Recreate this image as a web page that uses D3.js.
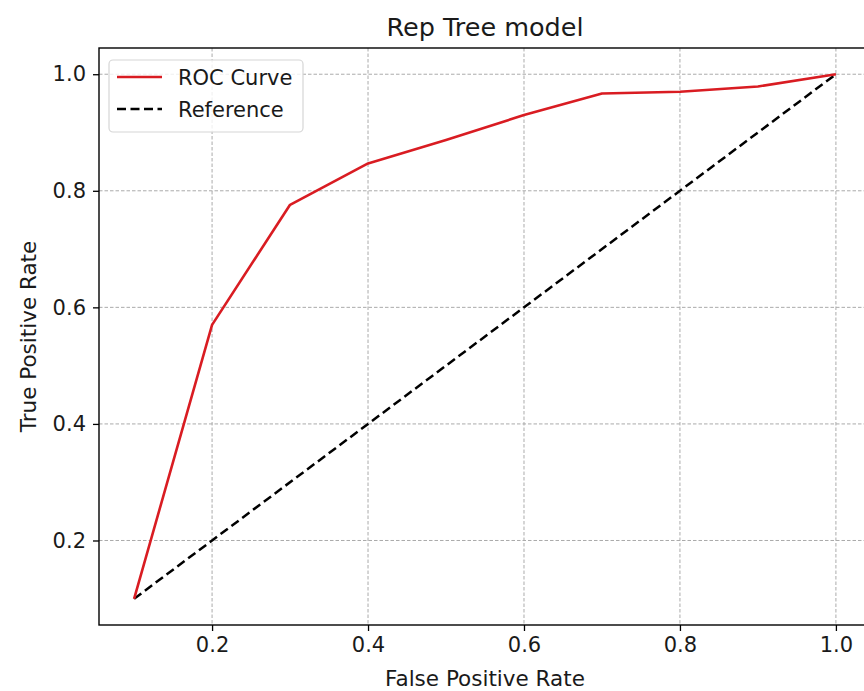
<!DOCTYPE html>
<html>
<head>
<meta charset="utf-8">
<script src="https://cdn.jsdelivr.net/npm/d3@7"></script>
<style>
  body { margin: 0; background: #fff; }
  svg { display: block; font-family: "DejaVu Sans", sans-serif; }
</style>
</head>
<body>
<script>
// ROC curve points
var fpr = [0.1, 0.2, 0.3, 0.4, 0.5, 0.6, 0.7, 0.8, 0.9, 1.0];
var tpr = [0.1, 0.57, 0.776, 0.847, 0.887, 0.93, 0.967, 0.97, 0.979, 1.0];
var refX = [0.1, 1.0];
var refY = [0.1, 1.0];
var xTicks = [0.2, 0.4, 0.6, 0.8, 1.0];
var yTicks = [0.2, 0.4, 0.6, 0.8, 1.0];

var width = 864, height = 691;
var plotLeft = 99, plotRight = 871, plotTop = 48, plotBottom = 625;

var svg = d3.select('body').append('svg')
    .attr('width', width)
    .attr('height', height);

var x = d3.scaleLinear().domain([0.055, 1.045]).range([plotLeft, plotRight]);
var y = d3.scaleLinear().domain([0.055, 1.045]).range([plotBottom, plotTop]);

// grid
svg.append('g').selectAll('line')
    .data(xTicks).enter().append('line')
    .attr('x1', function(d) { return x(d); })
    .attr('x2', function(d) { return x(d); })
    .attr('y1', plotTop).attr('y2', plotBottom)
    .attr('stroke', '#ababab').attr('stroke-width', 1)
    .attr('stroke-dasharray', '3.5,2');
svg.append('g').selectAll('line')
    .data(yTicks).enter().append('line')
    .attr('y1', function(d) { return y(d); })
    .attr('y2', function(d) { return y(d); })
    .attr('x1', plotLeft).attr('x2', plotRight)
    .attr('stroke', '#ababab').attr('stroke-width', 1)
    .attr('stroke-dasharray', '3.5,2');

// axes
var xAxis = svg.append('g')
    .attr('transform', 'translate(0,' + plotBottom + ')')
    .call(d3.axisBottom(x).tickValues(xTicks).tickFormat(d3.format('.1f')).tickSizeOuter(0).tickSizeInner(6).tickPadding(6));
var yAxis = svg.append('g')
    .attr('transform', 'translate(' + plotLeft + ',0)')
    .call(d3.axisLeft(y).tickValues(yTicks).tickFormat(d3.format('.1f')).tickSizeOuter(0).tickSizeInner(6).tickPadding(7));
[xAxis, yAxis].forEach(function(g) {
  g.select('.domain').remove();
  g.selectAll('.tick line').attr('stroke', '#000').attr('stroke-width', 1.3);
  g.selectAll('.tick text').attr('fill', '#1a1a1a').style('font-size', '21px').style('font-family', '"DejaVu Sans", sans-serif');
});

// frame
svg.append('rect')
    .attr('x', plotLeft).attr('y', plotTop)
    .attr('width', plotRight - plotLeft).attr('height', plotBottom - plotTop)
    .attr('fill', 'none').attr('stroke', '#000').attr('stroke-width', 1.4);

var line = d3.line()
    .x(function(d) { return x(d[0]); })
    .y(function(d) { return y(d[1]); });

svg.append('path')
    .datum(refX.map(function(v, i) { return [v, refY[i]]; }))
    .attr('d', line)
    .attr('fill', 'none').attr('stroke', '#000').attr('stroke-width', 2.5)
    .attr('stroke-dasharray', '9,4.5');

svg.append('path')
    .datum(fpr.map(function(v, i) { return [v, tpr[i]]; }))
    .attr('d', line)
    .attr('fill', 'none').attr('stroke', '#d91c22').attr('stroke-width', 2.6)
    .attr('stroke-linejoin', 'round');

// legend
var legend = svg.append('g');
legend.append('rect')
    .attr('x', 109).attr('y', 60).attr('width', 194).attr('height', 72)
    .attr('rx', 4)
    .attr('fill', '#fff').attr('fill-opacity', 0.8)
    .attr('stroke', '#d6d6d6').attr('stroke-width', 1.2);
var items = [
  { label: 'ROC Curve', color: '#d91c22', dash: null, y: 77 },
  { label: 'Reference', color: '#000', dash: '9,4.5', y: 109 }
];
items.forEach(function(it) {
  legend.append('line')
      .attr('x1', 117).attr('x2', 162)
      .attr('y1', it.y).attr('y2', it.y)
      .attr('stroke', it.color).attr('stroke-width', 2.5)
      .attr('stroke-dasharray', it.dash);
  legend.append('text')
      .attr('x', 178).attr('y', it.y + 8)
      .attr('fill', '#1a1a1a')
      .style('font-size', '21px')
      .text(it.label);
});

// title and labels
svg.append('text')
    .attr('x', (plotLeft + plotRight) / 2).attr('y', 36)
    .attr('text-anchor', 'middle').attr('fill', '#1a1a1a')
    .style('font-size', '25.5px')
    .text('Rep Tree model');
svg.append('text')
    .attr('x', (plotLeft + plotRight) / 2).attr('y', 686)
    .attr('text-anchor', 'middle').attr('fill', '#1a1a1a')
    .style('font-size', '21.5px')
    .text('False Positive Rate');
svg.append('text')
    .attr('transform', 'translate(36,' + (plotTop + plotBottom) / 2 + ') rotate(-90)')
    .attr('text-anchor', 'middle').attr('fill', '#1a1a1a')
    .style('font-size', '21.5px')
    .text('True Positive Rate');
</script>
</body>
</html>
